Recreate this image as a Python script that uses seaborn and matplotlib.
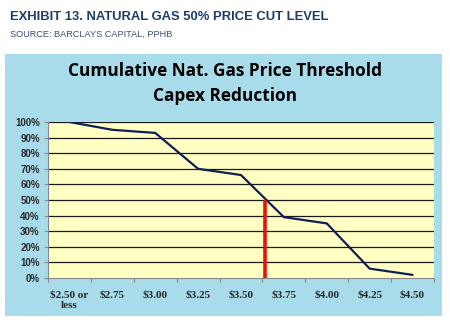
import matplotlib
matplotlib.use("Agg")
import matplotlib.pyplot as plt
import seaborn as sns
import pandas as pd
import numpy as np
from matplotlib.patches import Rectangle

categories = ["$2.50 or\nless", "$2.75", "$3.00", "$3.25", "$3.50", "$3.75", "$4.00", "$4.25", "$4.50"]
prices = [2.50, 2.75, 3.00, 3.25, 3.50, 3.75, 4.00, 4.25, 4.50]
capex_pct = [100, 95, 93, 70, 66, 39, 35, 6, 2]
cut_price = 3.64
cut_level = 50
y_ticks = [0, 10, 20, 30, 40, 50, 60, 70, 80, 90, 100]

sns.set_theme(style="white")

fig = plt.figure(figsize=(4.5, 3.36), dpi=100)
fig.patch.set_facecolor("white")

# blue panel
panel = Rectangle((5/450, 1 - 316/336), 437/450, (316-54)/336,
                  transform=fig.transFigure, facecolor="#a9dceb",
                  edgecolor="none", zorder=-5)
fig.patches.append(panel)

fig.text(10/450, 1 - 17/336, "EXHIBIT 13. NATURAL GAS 50% PRICE CUT LEVEL",
         fontsize=9.4, fontweight="bold", color="#1f3b6e", family="Liberation Sans", va="center")
fig.text(10/450, 1 - 34/336, "SOURCE: BARCLAYS CAPITAL, PPHB",
         fontsize=6.6, color="#3c4f6e", family="Liberation Sans", va="center")

fig.text(0.5, 1 - 71/336, "Cumulative Nat. Gas Price Threshold", ha="center", va="center",
         fontsize=12.4, fontweight="bold", family="Open Sans", color="black")
fig.text(0.5, 1 - 96/336, "Capex Reduction", ha="center", va="center",
         fontsize=12.4, fontweight="bold", family="Open Sans", color="black")

ax = fig.add_axes([48/450, 1 - 278/336, (434-48)/450, (278-122)/336])
ax.set_zorder(5)
ax.set_facecolor("#ffffc4")

df = pd.DataFrame({"idx": np.arange(len(categories)), "pct": capex_pct})
sns.lineplot(data=df, x="idx", y="pct", ax=ax, color="#0f1f55", linewidth=1.6, zorder=3)

cut_idx = np.interp(cut_price, prices, np.arange(len(prices)))
ax.vlines(cut_idx, 0, cut_level, color="#e3120b", linewidth=2.6, zorder=4)

ax.set_xlim(-0.5, len(categories) - 0.5)
ax.set_ylim(0, 100)
ax.set_yticks(y_ticks)
ax.set_yticklabels([f"{v}%" for v in y_ticks], fontsize=7, fontweight="bold",
                   family="Liberation Sans")
for v in y_ticks[1:]:
    ax.axhline(v, color="#1a1a1a", linewidth=0.9, zorder=1)

ax.set_xticks(np.arange(len(categories)))
ax.set_xticklabels(categories, fontsize=8, fontweight="bold", family="Liberation Serif",
                   linespacing=1.25)
ax.set_xticks(np.arange(-0.5, len(categories)), minor=True)
ax.tick_params(axis="x", which="major", length=0, pad=9)
ax.tick_params(axis="x", which="minor", length=3, color="#888888", width=0.8, direction="out")
ax.tick_params(axis="y", which="major", length=3, color="#888888", width=0.8, direction="out", pad=3)
ax.set_xlabel("")
ax.set_ylabel("")
for s in ["top", "right"]:
    ax.spines[s].set_visible(False)
for s in ["left", "bottom"]:
    ax.spines[s].set_color("#888888")
    ax.spines[s].set_linewidth(0.8)
ax.xaxis.set_ticks_position("bottom")
ax.yaxis.set_ticks_position("left")

fig.savefig("out.png", dpi=100)
